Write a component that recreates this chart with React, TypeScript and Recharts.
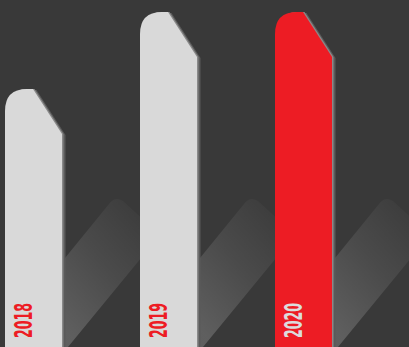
import React from "react";
import { BarChart, Bar, XAxis, YAxis } from "recharts";

const years = ["2018", "2019", "2020"];
const values = [77, 100, 100];
const barColors = ["#d9d9d9", "#d9d9d9", "#ed1c24"];
const labelColors = ["#ed1c24", "#ed1c24", "#dcdcdc"];

const data = years.map((year, i) => ({ year, value: values[i] }));

const W = 409;
const H = 347;
const COL = 57; // column width inside each band

// column with rounded top-left corner and chamfered top-right
function columnPath(x0: number, y0: number, yb: number) {
    const r = 22;
    const x1 = x0 + COL;
    return `M${x0},${yb} L${x0},${y0 + r} Q${x0},${y0} ${x0 + r},${y0} L${x0 + 28},${y0} L${x1},${y0 + 45} L${x1},${yb} Z`;
}

// soft diagonal light streak to the right of a column
function streakPath(xr: number, yb: number) {
    return `M${xr},${yb - 89} L${xr + 44},${yb - 143} Q${xr + 50},${yb - 151} ${xr + 58},${yb - 146} L${xr + 95},${yb - 112} L${xr + 3},${yb} L${xr},${yb} Z`;
}

function Column(props: any) {
    const { x, y, height, payload } = props;
    const i = years.indexOf(payload.year);
    const x0 = x + 2;
    const yb = y + height;
    const xr = x0 + COL + 3;
    return (
        <g>
            <path d={streakPath(xr, yb)} fill="url(#streak)" />
            <path d={columnPath(x0 + 3.5, y + 1, yb)} fill="#5a5a5a" />
            <path d={columnPath(x0 + 1.5, y, yb)} fill="#8a8a8a" />
            <path d={columnPath(x0, y, yb)} fill={barColors[i]} />
            <text
                transform={`translate(${x0 + 27},${yb - 9}) rotate(-90)`}
                textLength={35}
                lengthAdjust="spacingAndGlyphs"
                fontFamily="'DejaVu Sans Condensed', 'DejaVu Sans', sans-serif"
                fontSize={25}
                fontWeight="bold"
                fill={labelColors[i]}
            >
                {payload.year}
            </text>
        </g>
    );
}

export default function App() {
    return (
        <div style={{ position: "absolute", left: 0, top: 0, width: W, height: H, background: "#393939" }}>
            <BarChart
                width={W}
                height={H}
                data={data}
                margin={{ top: 12, right: 1, left: 3, bottom: 0 }}
                barCategoryGap={0}
            >
                <defs>
                    <linearGradient id="streak" x1="0.1" y1="0.95" x2="0.75" y2="0.1">
                        <stop offset="0%" stopColor="#ffffff" stopOpacity={0.19} />
                        <stop offset="55%" stopColor="#ffffff" stopOpacity={0.09} />
                        <stop offset="100%" stopColor="#ffffff" stopOpacity={0.025} />
                    </linearGradient>
                </defs>
                <XAxis dataKey="year" hide />
                <YAxis domain={[0, 100]} hide />
                <Bar dataKey="value" shape={<Column />} isAnimationActive={false} />
            </BarChart>
        </div>
    );
}
